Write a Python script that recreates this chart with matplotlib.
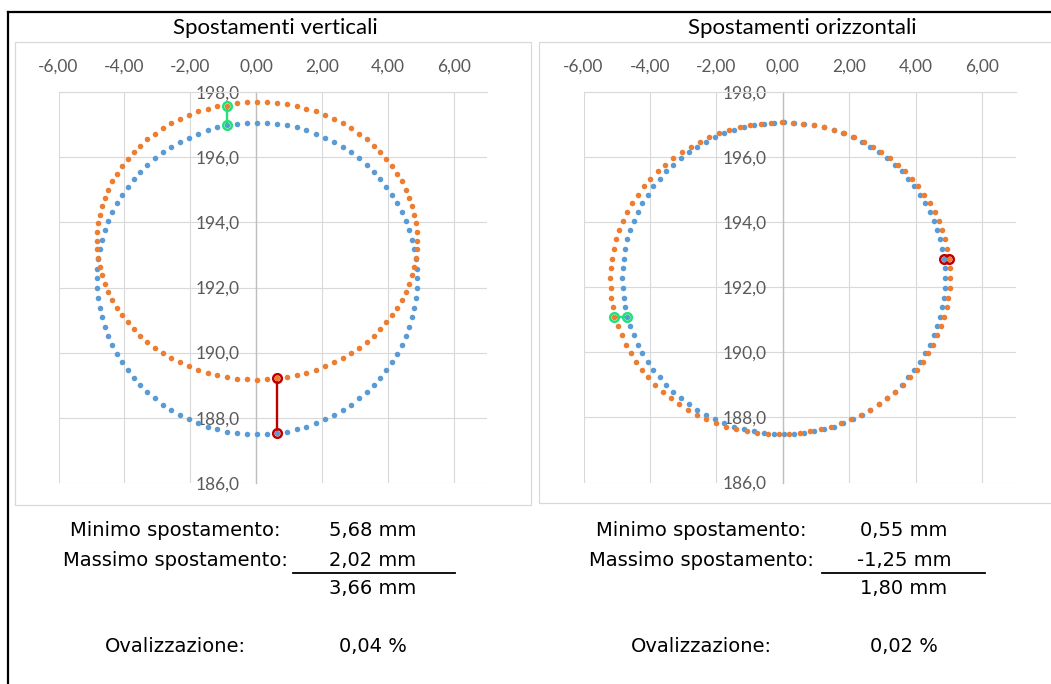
"""
ovalizzazione.py -- profili della sezione: spostamenti verticali e orizzontali.

Due grafici a dispersione (profilo di riferimento vs profilo deformato) con
evidenziati i punti di minimo e massimo spostamento, e sotto il riepilogo.
"""

import matplotlib.pyplot as plt
from matplotlib.lines import Line2D
from matplotlib.patches import Rectangle
from matplotlib.ticker import FuncFormatter, MultipleLocator

# ---------------------------------------------------------------------- #
# Dati: 100 punti del profilo (passo 3,6 gradi)
# ---------------------------------------------------------------------- #
rif_x = [
    4.89, 4.88, 4.85, 4.80, 4.74, 4.65, 4.55, 4.43, 4.29, 4.13,
    3.96, 3.77, 3.57, 3.36, 3.13, 2.89, 2.63, 2.37, 2.10, 1.82,
    1.53, 1.24, 0.94, 0.64, 0.34, 0.03, -0.28, -0.58, -0.88, -1.18,
    -1.47, -1.76, -2.04, -2.31, -2.57, -2.83, -3.07, -3.30, -3.51, -3.71,
    -3.90, -4.07, -4.23, -4.37, -4.49, -4.59, -4.68, -4.74, -4.79, -4.82,
    -4.83, -4.82, -4.79, -4.74, -4.68, -4.59, -4.49, -4.37, -4.23, -4.07,
    -3.90, -3.71, -3.51, -3.30, -3.07, -2.83, -2.57, -2.31, -2.04, -1.76,
    -1.47, -1.18, -0.88, -0.58, -0.28, 0.03, 0.34, 0.64, 0.94, 1.24,
    1.53, 1.82, 2.10, 2.37, 2.63, 2.89, 3.13, 3.36, 3.57, 3.77,
    3.96, 4.13, 4.29, 4.43, 4.55, 4.65, 4.74, 4.80, 4.85, 4.88,
]
rif_y = [
    192.28, 192.58, 192.88, 193.18, 193.47, 193.76, 194.04, 194.32, 194.59, 194.85,
    195.10, 195.33, 195.56, 195.77, 195.97, 196.16, 196.32, 196.48, 196.61, 196.73,
    196.84, 196.92, 196.99, 197.03, 197.06, 197.07, 197.06, 197.03, 196.99, 196.92,
    196.84, 196.73, 196.61, 196.48, 196.32, 196.16, 195.97, 195.77, 195.56, 195.33,
    195.10, 194.85, 194.59, 194.32, 194.04, 193.76, 193.47, 193.18, 192.88, 192.58,
    192.28, 191.98, 191.68, 191.38, 191.09, 190.80, 190.52, 190.24, 189.97, 189.71,
    189.46, 189.23, 189.00, 188.79, 188.59, 188.40, 188.24, 188.08, 187.95, 187.83,
    187.72, 187.64, 187.57, 187.53, 187.50, 187.49, 187.50, 187.53, 187.57, 187.64,
    187.72, 187.83, 187.95, 188.08, 188.24, 188.40, 188.59, 188.79, 189.00, 189.23,
    189.46, 189.71, 189.97, 190.24, 190.52, 190.80, 191.09, 191.38, 191.68, 191.98,
]
# profilo deformato in verticale (stesse ascisse del riferimento)
vert_y = [
    193.44, 193.71, 193.98, 194.24, 194.50, 194.76, 195.01, 195.26, 195.50, 195.73,
    195.95, 196.16, 196.36, 196.55, 196.73, 196.89, 197.05, 197.18, 197.30, 197.41,
    197.50, 197.58, 197.63, 197.68, 197.70, 197.71, 197.70, 197.68, 197.59, 197.58,
    197.50, 197.41, 197.30, 197.18, 197.05, 196.89, 196.73, 196.55, 196.36, 196.16,
    195.95, 195.73, 195.50, 195.26, 195.01, 194.76, 194.50, 194.24, 193.98, 193.71,
    193.44, 193.17, 192.91, 192.64, 192.38, 192.12, 191.87, 191.62, 191.38, 191.15,
    190.93, 190.72, 190.52, 190.33, 190.15, 189.99, 189.84, 189.70, 189.58, 189.47,
    189.38, 189.30, 189.25, 189.20, 189.18, 189.17, 189.18, 189.22, 189.25, 189.30,
    189.38, 189.47, 189.58, 189.70, 189.84, 189.99, 190.15, 190.33, 190.52, 190.72,
    190.93, 191.15, 191.38, 191.62, 191.87, 192.12, 192.38, 192.64, 192.91, 193.17,
]
# profilo deformato in orizzontale (stesse ordinate del riferimento)
oriz_x = [
    5.03, 5.02, 5.00, 4.95, 4.88, 4.80, 4.69, 4.57, 4.42, 4.26,
    4.08, 3.89, 3.68, 3.45, 3.22, 2.96, 2.70, 2.43, 2.14, 1.85,
    1.55, 1.24, 0.93, 0.61, 0.29, -0.03, -0.35, -0.67, -0.99, -1.30,
    -1.61, -1.92, -2.21, -2.50, -2.78, -3.04, -3.30, -3.54, -3.77, -3.99,
    -4.19, -4.37, -4.53, -4.68, -4.81, -4.93, -5.02, -5.09, -5.14, -5.18,
    -5.19, -5.18, -5.16, -5.11, -5.07, -4.96, -4.85, -4.73, -4.58, -4.42,
    -4.24, -4.05, -3.84, -3.61, -3.38, -3.12, -2.86, -2.59, -2.30, -2.01,
    -1.71, -1.40, -1.09, -0.77, -0.45, -0.13, 0.19, 0.51, 0.83, 1.14,
    1.45, 1.76, 2.05, 2.34, 2.62, 2.88, 3.14, 3.38, 3.61, 3.83,
    4.03, 4.21, 4.37, 4.52, 4.65, 4.77, 4.86, 4.93, 4.98, 5.02,
]

# indici dei punti di minimo / massimo spostamento
IDX_MIN_V, IDX_MAX_V = 28, 77
IDX_MAX_H, IDX_MIN_H = 2, 54

titoli = ["Spostamenti verticali", "Spostamenti orizzontali"]
etichette = ["Minimo spostamento:", "Massimo spostamento:", "", "Ovalizzazione:"]
valori_vert = ["5,68 mm", "2,02 mm", "3,66 mm", "0,04 %"]
valori_oriz = ["0,55 mm", "-1,25 mm", "1,80 mm", "0,02 %"]

BLU = "#5B9BD5"
ARANCIO = "#ED7D31"
VERDE = "#1FE27A"
ROSSO = "#C00000"
GRIGLIA = "#D9D9D9"
TESTO_ASSI = "#595959"

W, H = 1051, 684


def fx(px):
    return px / W


def fy(py):
    return 1 - py / H


def grafico(ax, x_rif, y_rif, x_def, y_def, evidenzia):
    ax.set_xlim(-6, 7)
    ax.set_ylim(186, 198)
    ax.xaxis.set_major_locator(MultipleLocator(2))
    ax.yaxis.set_major_locator(MultipleLocator(2))
    ax.xaxis.set_major_formatter(FuncFormatter(lambda v, p: f"{v:.2f}".replace(".", ",")))
    ax.yaxis.set_major_formatter(FuncFormatter(lambda v, p: f"{v:.1f}".replace(".", ",")))

    ax.set_facecolor("none")
    ax.grid(True, color=GRIGLIA, linewidth=0.8, zorder=0)
    ax.set_axisbelow(True)

    # asse verticale sullo zero, asse orizzontale in alto
    ax.spines["left"].set_position(("data", 0))
    ax.spines["left"].set_color("#BFBFBF")
    ax.spines["left"].set_linewidth(1.0)
    ax.spines["top"].set_color(GRIGLIA)
    ax.spines["top"].set_linewidth(0.8)
    ax.spines["bottom"].set_visible(False)
    ax.spines["right"].set_visible(False)
    ax.xaxis.set_ticks_position("top")
    ax.yaxis.set_ticks_position("left")
    ax.tick_params(axis="x", length=0, pad=12.5, labelsize=12.5, labelcolor=TESTO_ASSI)
    ax.tick_params(axis="y", length=0, pad=11.5, labelsize=12.5, labelcolor=TESTO_ASSI)
    for lab in ax.get_xticklabels() + ax.get_yticklabels():
        lab.set_fontfamily("Lato")

    # segmenti di minimo / massimo sotto i punti
    for i, col in evidenzia:
        ax.plot([x_rif[i], x_def[i]], [y_rif[i], y_def[i]], "-o", color=col,
                lw=1.7, ms=6.2, mfc="none", mec=col, mew=1.8, zorder=2,
                clip_on=False)

    ax.plot(x_rif, y_rif, "o", color=BLU, ms=4.0, mew=0, zorder=3, clip_on=False)
    ax.plot(x_def, y_def, "o", color=ARANCIO, ms=4.0, mew=0, zorder=4, clip_on=False)


def main():
    fig = plt.figure(figsize=(W / 100, H / 100), dpi=100)
    fig.patch.set_facecolor("white")

    # cornici dei grafici
    fig.add_artist(Rectangle((fx(15), fy(505)), fx(516), 463 / H, transform=fig.transFigure,
                             facecolor="white", edgecolor=GRIGLIA, lw=0.9, zorder=-1))
    fig.add_artist(Rectangle((fx(539), fy(503)), fx(516), 461 / H, transform=fig.transFigure,
                             facecolor="white", edgecolor=GRIGLIA, lw=0.9, zorder=-1))

    # bordo del foglio
    fig.add_artist(Line2D([fx(8), 1], [fy(12), fy(12)], color="black", lw=1.6))
    fig.add_artist(Line2D([fx(8), fx(8)], [0, fy(12)], color="black", lw=1.6))

    ax1 = fig.add_axes([fx(58.5), fy(482.7), fx(428), 390.4 / H])
    ax2 = fig.add_axes([fx(583.5), fy(482.5), fx(432), 390.4 / H])

    grafico(ax1, rif_x, rif_y, rif_x, vert_y,
            [(IDX_MIN_V, VERDE), (IDX_MAX_V, ROSSO)])
    grafico(ax2, rif_x, rif_y, oriz_x, rif_y,
            [(IDX_MAX_H, ROSSO), (IDX_MIN_H, VERDE)])

    # titoli
    fig.text(fx(275), fy(28), titoli[0], ha="center", va="center",
             fontsize=16, family="Lato")
    fig.text(fx(802), fy(28), titoli[1], ha="center", va="center",
             fontsize=16, family="Lato")

    # riepilogo sotto i grafici
    righe_y = [531, 560, 589, 647]
    for x_et, x_val, valori in [(175, 373, valori_vert), (701, 904, valori_oriz)]:
        for et, val, py in zip(etichette, valori, righe_y):
            if et:
                fig.text(fx(x_et), fy(py), et, ha="center", va="center",
                         fontsize=14, family="DejaVu Sans")
            fig.text(fx(x_val), fy(py), val, ha="center", va="center",
                     fontsize=14, family="DejaVu Sans")

    fig.add_artist(Line2D([fx(293), fx(455)], [fy(573), fy(573)], color="black", lw=1.3))
    fig.add_artist(Line2D([fx(822), fx(985)], [fy(573), fy(573)], color="black", lw=1.3))

    fig.savefig("out.png", dpi=100)
    plt.close(fig)


if __name__ == "__main__":
    main()
